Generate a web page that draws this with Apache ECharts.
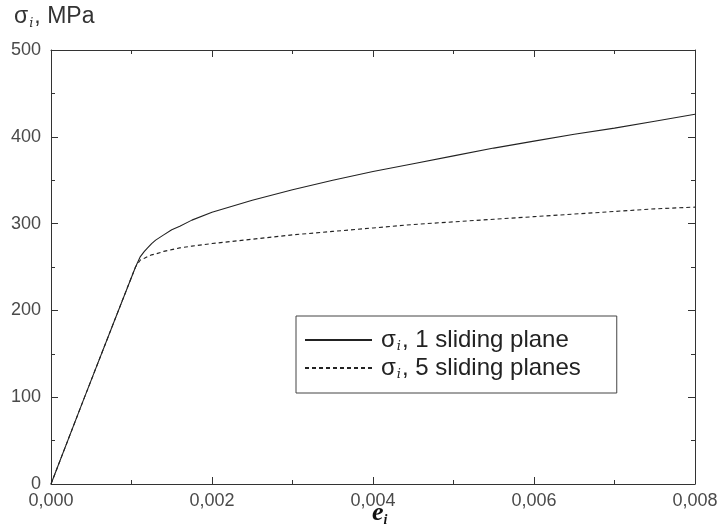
<!DOCTYPE html>
<html>
<head>
<meta charset="utf-8">
<script src="https://cdn.jsdelivr.net/npm/echarts@6/dist/echarts.min.js"></script>
<style>
html,body{margin:0;padding:0;background:#fff;}
#c{width:721px;height:529px;}
</style>
</head>
<body>
<div id="c"></div>
<script>
const strain = [0, 0.0004, 0.0008, 0.00105, 0.00111, 0.00116, 0.0012, 0.00125, 0.0013, 0.0014, 0.0015, 0.0016, 0.00175, 0.002, 0.0025, 0.003, 0.0035, 0.004, 0.0045, 0.005, 0.0055, 0.006, 0.0065, 0.007, 0.0075, 0.008];
const stressOnePlane = [0, 96, 191, 250, 262, 268, 272, 277, 281, 287, 293, 297, 304, 313, 327, 339, 350, 360, 369, 378, 387, 395, 403, 410, 418, 426];
const stressFivePlanes = [0, 96, 191, 250, 258, 260, 262, 264, 265, 268, 270, 272, 274, 277, 282, 287, 291, 295, 299, 302, 305, 308, 311, 314, 317, 319];
const seriesNames = ['σi, 1 sliding plane', 'σi, 5 sliding planes'];
const legendTexts = [', 1 sliding plane', ', 5 sliding planes'];
const xTicks = {min: 0, max: 0.008, interval: 0.002};
const yTicks = {min: 0, max: 500, interval: 100};

const chart = echarts.init(document.getElementById('c'));
const lab = {fontFamily: "'Liberation Sans', Arial, sans-serif", fontSize: 18, color: '#4a4a4a'};
const axisCommon = () => ({
  axisLine: {show: true, onZero: false, lineStyle: {color: '#333', width: 1}},
  axisTick: {show: true, inside: true, length: 7, lineStyle: {color: '#333'}},
  minorTick: {show: true, splitNumber: 2, length: 4, lineStyle: {color: '#333'}},
  splitLine: {show: false}
});
const mk = (xs, ys) => xs.map((x, i) => [x, ys[i]]);

chart.setOption({
  animation: false,
  backgroundColor: '#fff',
  grid: {left: 51, right: 26, top: 50, bottom: 45},
  xAxis: [
    Object.assign({type: 'value', min: xTicks.min, max: xTicks.max, interval: xTicks.interval, position: 'bottom',
      axisLabel: Object.assign({margin: 8, formatter: v => v.toFixed(3).replace('.', ',')}, lab)}, axisCommon()),
    Object.assign({type: 'value', min: xTicks.min, max: xTicks.max, interval: xTicks.interval, position: 'top',
      axisLabel: {show: false}}, axisCommon())
  ],
  yAxis: [
    Object.assign({type: 'value', min: yTicks.min, max: yTicks.max, interval: yTicks.interval, position: 'left',
      axisLabel: Object.assign({margin: 10}, lab)}, axisCommon()),
    Object.assign({type: 'value', min: yTicks.min, max: yTicks.max, interval: yTicks.interval, position: 'right',
      axisLabel: {show: false}}, axisCommon())
  ],
  legend: {
    orient: 'vertical', left: 296, top: 316,
    padding: [12, 36, 12, 8], itemGap: 3, itemWidth: 67, itemHeight: 14,
    borderColor: '#444', borderWidth: 1,
    itemStyle: {opacity: 0},
    data: seriesNames,
    formatter: function (name) {
      const i = seriesNames.indexOf(name);
      return '{a|σ}{s|i}{a|' + legendTexts[i] + '}';
    },
    textStyle: {
      fontFamily: "'Liberation Sans', Arial, sans-serif", fontSize: 24, color: '#222', padding: [0, 0, 0, 4],
      rich: {
        a: {fontFamily: "'Liberation Sans', Arial, sans-serif", fontSize: 24, color: '#222', lineHeight: 26},
        s: {fontFamily: "'DejaVu Serif', serif", fontStyle: 'italic', fontSize: 13, color: '#222', lineHeight: 26, verticalAlign: 'bottom', padding: [0, 1, 0, 1]}
      }
    }
  },
  graphic: [
    {type: 'text', left: 14, top: 5, style: {
      rich: {
        a: {fontFamily: "'Liberation Sans', Arial, sans-serif", fontSize: 23, fill: '#333', lineHeight: 28},
        s: {fontFamily: "'DejaVu Serif', serif", fontStyle: 'italic', fontSize: 13, fill: '#333', lineHeight: 28, verticalAlign: 'bottom', padding: [0, 1, 0, 1]}
      },
      text: '{a|σ}{s|i}{a|, MPa}'
    }},
    {type: 'text', left: 372, top: 500, style: {
      rich: {
        a: {fontFamily: "'Liberation Serif', 'Times New Roman', serif", fontStyle: 'italic', fontWeight: 'bold', fontSize: 26, fill: '#111', lineHeight: 28},
        s: {fontFamily: "'Liberation Serif', 'Times New Roman', serif", fontStyle: 'italic', fontWeight: 'bold', fontSize: 14, fill: '#111', lineHeight: 28, verticalAlign: 'bottom'}
      },
      text: '{a|e}{s|i}'
    }}
  ],
  series: [
    {name: seriesNames[0], type: 'line', xAxisIndex: 0, yAxisIndex: 0, data: mk(strain, stressOnePlane),
      showSymbol: false, symbol: 'none', smooth: false,
      lineStyle: {color: '#222', width: 1.1, type: 'solid'}, itemStyle: {color: '#222'}},
    {name: seriesNames[1], type: 'line', xAxisIndex: 0, yAxisIndex: 0, data: mk(strain, stressFivePlanes),
      showSymbol: false, symbol: 'none', smooth: false,
      lineStyle: {color: '#222', width: 1.1, type: [4, 3]}, itemStyle: {color: '#222'}}
  ]
});
</script>
</body>
</html>
